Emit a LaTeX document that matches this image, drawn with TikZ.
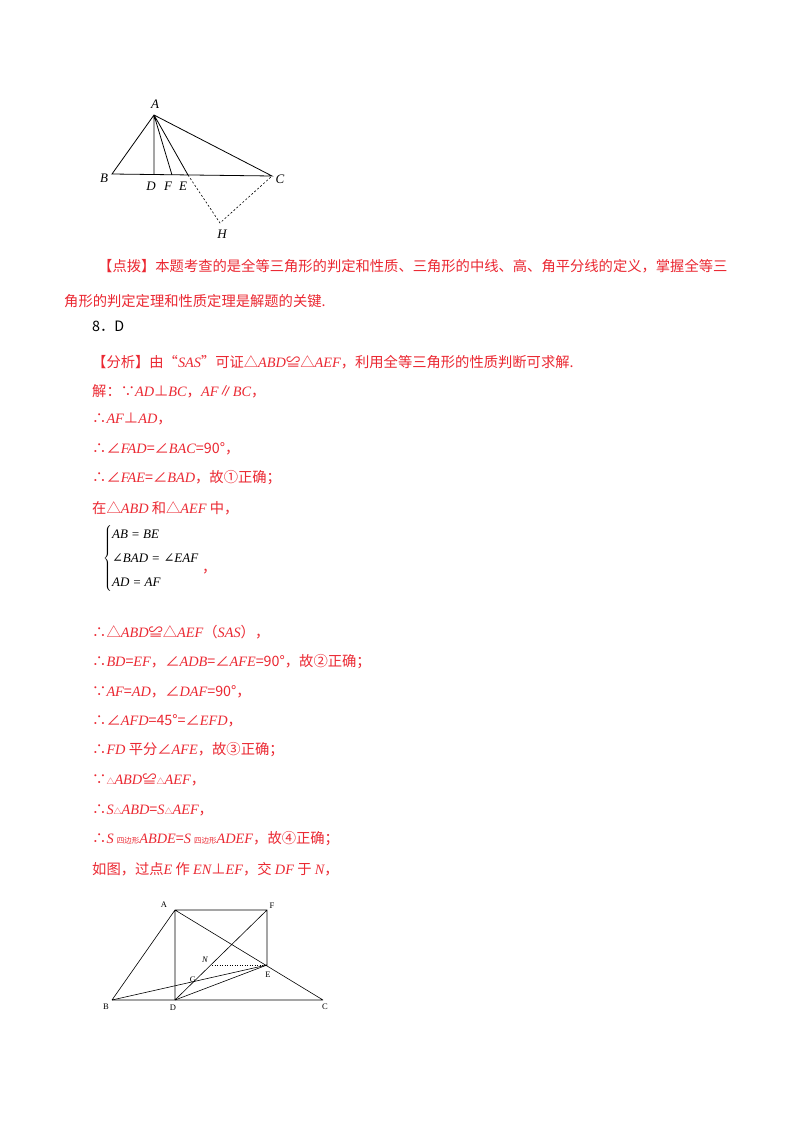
\documentclass[tikz,border=0pt]{standalone}
\usepackage{fontspec}
\setmainfont{Noto Sans CJK SC}
\newfontfamily\tms{Liberation Serif}
\newfontfamily\djv{DejaVu Serif}
\newcommand\I[1]{{\tms\itshape #1}}
\usetikzlibrary{calc,intersections}
\definecolor{rd}{RGB}{235,40,50}
\begin{document}
\begin{tikzpicture}[x=1pt,y=-1pt,
 ln/.style={anchor=west,text=rd,font=\fontsize{14.3}{16}\selectfont,inner sep=0pt},
 lbl/.style={font=\tms\itshape\fontsize{13}{14}\selectfont,inner sep=0pt},
 lb2/.style={font=\tms\fontsize{8.5}{9}\selectfont,inner sep=0pt},
 seg/.style={line width=0.8pt},
 dsh/.style={line width=0.6pt,dashed,dash pattern=on 2pt off 2pt}]
\useasboundingbox (0,0) rectangle (800,1132);
\fill[white] (0,0) rectangle (800,1132);
% figure 1
\coordinate (A) at (154,115); \coordinate (B) at (112,174); \coordinate (D) at (154,174);
\coordinate (F) at (172,175); \coordinate (E) at (188,175); \coordinate (C) at (272,176);
\coordinate (H) at (220,223);
\draw[seg] (B)--(A)--(C)--cycle (A)--(D) (A)--(F) (A)--(E);
\draw[dsh] (E)--(H)--(C);
\node[lbl] (lA) at (155,104) {A}; \node[lbl] (lB) at (104,178) {B}; \node[lbl] (lC) at (280,179) {C};
\node[lbl] (lD) at (151,186) {D}; \node[lbl] (lF) at (168,186) {F}; \node[lbl] (lE) at (183,186) {E};
\node[lbl] (lH) at (222,234) {H};
% text
\node[ln] (t1) at (98,266) {【点拨】本题考查的是全等三角形的判定和性质、三角形的中线、高、角平分线的定义，掌握全等三};
\node[ln] (t2) at (64,301) {角形的判定定理和性质定理是解题的关键.};
\node[ln,text=black] (t3) at (92,326) {8．D};
\node[ln] (t4) at (92,362) {【分析】由“\I{SAS}”可证△\I{ABD}≌△\I{AEF}，利用全等三角形的性质判断可求解.};
\node[ln] (t5) at (92,391) {解：∵\I{AD}⊥\I{BC}，\I{AF}∥\I{BC}，};
\node[ln] (t6) at (92,419) {∴\I{AF}⊥\I{AD}，};
\node[ln] (t7) at (92,449) {∴∠\I{FAD}=∠\I{BAC}=90°，};
\node[ln] (t8) at (92,478) {∴∠\I{FAE}=∠\I{BAD}，故①正确；};
\node[ln] (t9) at (92,508) {在△\I{ABD} 和△\I{AEF} 中，};
\node[anchor=west,inner sep=0pt,font=\tms\itshape\fontsize{13}{22}\selectfont] (sys) at (103,558)
 {$\left\{\begin{tabular}{@{}l@{}}AB = BE\\[2pt] {\djv\upshape ∠}BAD = {\djv\upshape ∠}EAF\\[2pt] AD = AF\end{tabular}\right.$};
\node[ln] (cm) at (202,572) {，};
\node[ln] (t10) at (92,632) {∴△\I{ABD}≌△\I{AEF}（\I{SAS}），};
\node[ln] (t11) at (92,662) {∴\I{BD}=\I{EF}，∠\I{ADB}=∠\I{AFE}=90°，故②正确；};
\node[ln] (t12) at (92,692) {∵\I{AF}=\I{AD}，∠\I{DAF}=90°，};
\node[ln] (t13) at (92,721) {∴∠\I{AFD}=45°=∠\I{EFD}，};
\node[ln] (t14) at (92,750) {∴\I{FD} 平分∠\I{AFE}，故③正确；};
\node[ln] (t15) at (92,780) {∵{\fontsize{8}{9}\selectfont △}\I{ABD}≌{\fontsize{8}{9}\selectfont △}\I{AEF}，};
\node[ln] (t16) at (92,810) {∴\I{S}{\fontsize{8}{9}\selectfont △}\I{ABD}=\I{S}{\fontsize{8}{9}\selectfont △}\I{AEF}，};
\node[ln] (t17) at (92,839) {∴\I{S} {\fontsize{7.5}{9}\selectfont 四边形}\I{ABDE}=\I{S} {\fontsize{7.5}{9}\selectfont 四边形}\I{ADEF}，故④正确；};
\node[ln] (t18) at (92,869) {如图，过点\I{E} 作 \I{EN}⊥\I{EF}，交 \I{DF} 于 \I{N}，};
% figure 2
\coordinate (A2) at (175,910); \coordinate (F2) at (267,910); \coordinate (E2) at (267,965);
\coordinate (B2) at (112,1000); \coordinate (D2) at (175,1000); \coordinate (C2) at (323,1000);
\coordinate (N2) at (212,965);
\draw[line width=0.6pt] (B2)--(A2)--(F2)--(E2) (A2)--(D2) (A2)--(C2) (B2)--(C2) (D2)--(F2);
\draw[line width=0.6pt,name path=be] (B2)--(E2);
\draw[line width=0.6pt] (D2)--(E2);
\path[name path=df] (D2)--(F2);
\path[name intersections={of=be and df,by=G2}];
\draw[line width=0.5pt,dotted] (N2)--(E2);
\node[lb2] (la) at (164,905) {A}; \node[lb2] (lf) at (272,906) {F};
\node[lb2,font=\tms\itshape\fontsize{8.5}{9}\selectfont] (ln2) at (205,960) {N};
\node[lb2] (le) at (268,975) {E}; \node[lb2] (lg) at (193,980) {G};
\node[lb2] (lb) at (106,1007) {B}; \node[lb2] (ld) at (173,1008) {D}; \node[lb2] (lc) at (325,1007) {C};
\end{tikzpicture}
\end{document}
